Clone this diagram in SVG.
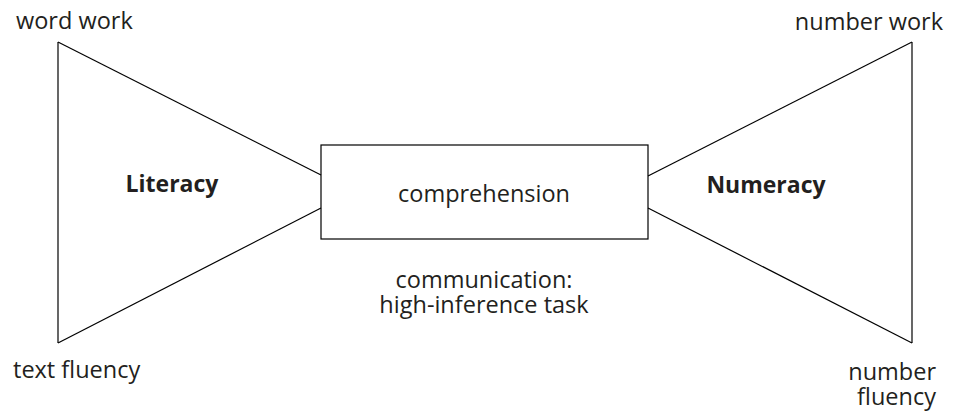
<svg xmlns="http://www.w3.org/2000/svg" width="958" height="415" viewBox="0 0 958 415">
<style>
.t{font-family:"Open Sans","Liberation Sans",sans-serif;font-size:23.5px;fill:#231f20}
.b{font-weight:bold;font-size:23px}
.ln{fill:none;stroke:#000;stroke-width:1.2}
</style>
<rect width="958" height="415" fill="#fff"/>
<g id="connectors">
<line class="ln" x1="58" y1="42" x2="321" y2="175"/>
<line class="ln" x1="58" y1="343" x2="321" y2="208"/>
<line class="ln" x1="58" y1="42" x2="58" y2="343"/>
<line class="ln" x1="912" y1="42" x2="648" y2="176"/>
<line class="ln" x1="912" y1="343" x2="648" y2="208"/>
<line class="ln" x1="912" y1="42" x2="912" y2="343"/>
</g>
<g id="literacy"><text class="t b" x="172" y="192" text-anchor="middle">Literacy</text></g>
<g id="numeracy"><text class="t b" x="766" y="193" text-anchor="middle">Numeracy</text></g>
<g id="comprehension">
<rect class="ln" x="321" y="145" width="327" height="94"/>
<text class="t" x="484" y="202" text-anchor="middle">comprehension</text>
</g>
<g id="communication">
<text class="t" x="484" y="288" text-anchor="middle">communication:</text>
<text class="t" x="484" y="313" text-anchor="middle">high-inference task</text>
</g>
<g id="word-work"><text class="t" x="16" y="29">word work</text></g>
<g id="text-fluency"><text class="t" x="13" y="378">text fluency</text></g>
<g id="number-work"><text class="t" x="943" y="30" text-anchor="end">number work</text></g>
<g id="number-fluency">
<text class="t" x="936" y="380" text-anchor="end">number</text>
<text class="t" x="936" y="405" text-anchor="end">fluency</text>
</g>
</svg>
